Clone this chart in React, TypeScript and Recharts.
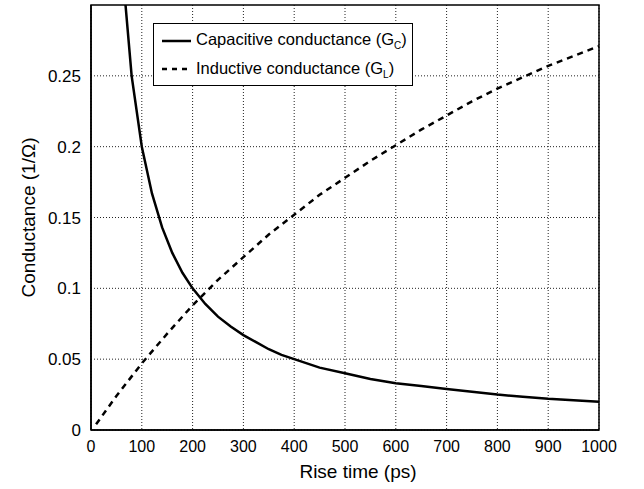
import { LineChart, Line, XAxis, YAxis, CartesianGrid, ReferenceArea } from "recharts";

// rise time (ps) and conductance (1/Ohm)
const capTime = [60, 80, 100, 120, 140, 160, 180, 200, 225, 250, 275, 300, 325, 350, 375, 400, 450, 500, 550, 600, 650, 700, 750, 800, 850, 900, 950, 1000];
const capValues = [0.333, 0.25, 0.2, 0.167, 0.143, 0.125, 0.111, 0.1, 0.089, 0.08, 0.073, 0.067, 0.062, 0.057, 0.053, 0.05, 0.044, 0.04, 0.036, 0.033, 0.031, 0.029, 0.027, 0.025, 0.0235, 0.022, 0.021, 0.02];

const indTime = [10, 50, 100, 150, 200, 250, 300, 350, 400, 450, 500, 550, 600, 650, 700, 750, 800, 850, 900, 950, 1000];
const indValues = [0.004, 0.024, 0.047, 0.068, 0.088, 0.106, 0.122, 0.138, 0.152, 0.166, 0.178, 0.19, 0.201, 0.212, 0.222, 0.232, 0.241, 0.249, 0.257, 0.264, 0.271];

const xTicks = [0, 100, 200, 300, 400, 500, 600, 700, 800, 900, 1000];
const yTicks = [0, 0.05, 0.1, 0.15, 0.2, 0.25];

const capData = capTime.map((t, i) => ({ t, g: capValues[i] }));
const indData = indTime.map((t, i) => ({ t, g: indValues[i] }));

const FONT = '"Liberation Sans", Arial, Helvetica, sans-serif';

const LegendBox = () => (
  <div
    style={{
      position: "absolute",
      left: 153,
      top: 23,
      width: 258,
      height: 61,
      border: "1.5px solid #000",
      background: "#fff",
      fontFamily: FONT,
      fontSize: 16.5,
      color: "#000",
    }}
  >
    <svg width={40} height={61} style={{ position: "absolute", left: 0, top: 0 }}>
      <line x1={8} x2={37} y1={17} y2={17} stroke="#000" strokeWidth={2.5} />
      <line x1={8} x2={37} y1={45} y2={45} stroke="#000" strokeWidth={2.5} strokeDasharray="5 5" />
    </svg>
    <div style={{ position: "absolute", left: 42, top: 5, whiteSpace: "nowrap", lineHeight: "20px" }}>
      Capacitive conductance (G<sub style={{ fontSize: 10, verticalAlign: "-4px" }}>C</sub>)
    </div>
    <div style={{ position: "absolute", left: 42, top: 34, whiteSpace: "nowrap", lineHeight: "20px" }}>
      Inductive conductance (G<sub style={{ fontSize: 10, verticalAlign: "-4px" }}>L</sub>)
    </div>
  </div>
);

export default function App() {
  return (
    <div style={{ position: "absolute", left: 0, top: 0, width: 644, height: 489, background: "#fff", fontFamily: FONT }}>
      <LineChart width={644} height={489} margin={{ top: 5, right: 45, left: 31, bottom: 29 }}>
        <CartesianGrid stroke="#222" strokeDasharray="1 2" horizontalValues={yTicks} verticalValues={xTicks} />
        <XAxis
          type="number"
          dataKey="t"
          domain={[0, 1000]}
          ticks={xTicks}
          height={30}
          tickLine={false}
          axisLine={{ stroke: "#000", strokeWidth: 1.5 }}
          tick={{ fill: "#000", fontSize: 16, fontFamily: FONT }}
          tickMargin={5}
          label={{ value: "Rise time (ps)", position: "insideBottom", offset: -18, dx: 13, fill: "#000", fontSize: 19, fontFamily: FONT }}
        />
        <YAxis
          type="number"
          domain={[0, 0.3]}
          ticks={yTicks}
          allowDataOverflow
          width={60}
          tickLine={false}
          axisLine={{ stroke: "#000", strokeWidth: 1.5 }}
          tick={{ fill: "#000", fontSize: 17, fontFamily: FONT }}
          tickMargin={4}
          label={{ value: "Conductance (1/\u03A9)", angle: -90, position: "insideLeft", offset: -3, fill: "#000", fontSize: 19, fontFamily: FONT, style: { textAnchor: "middle" } }}
        />
        <ReferenceArea x1={0} x2={1000} y1={0} y2={0.3} fill="none" stroke="#000" strokeWidth={1.5} ifOverflow="visible" />
        <Line
          data={capData}
          dataKey="g"
          type="linear"
          stroke="#000"
          strokeWidth={2.5}
          dot={false}
          isAnimationActive={false}
        />
        <Line
          data={indData}
          dataKey="g"
          type="linear"
          stroke="#000"
          strokeWidth={2.5}
          strokeDasharray="6 5"
          dot={false}
          isAnimationActive={false}
        />
      </LineChart>
      <LegendBox />
    </div>
  );
}
